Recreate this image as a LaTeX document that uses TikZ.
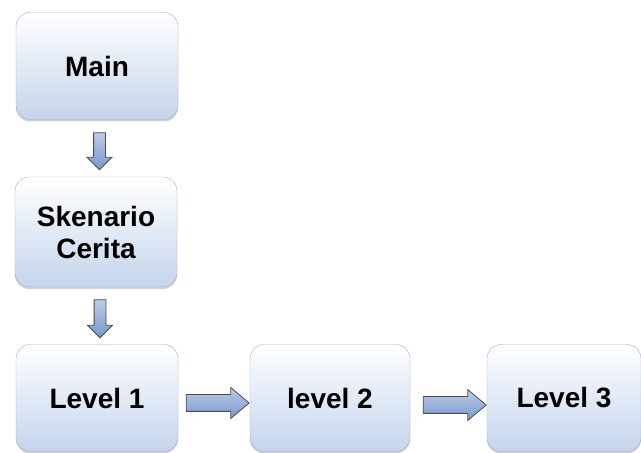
\documentclass[tikz,border=0pt]{standalone}
\usepackage{fontspec}
\setmainfont{Liberation Sans}
\usetikzlibrary{shapes.arrows,shadows}
\definecolor{boxblue}{RGB}{196,212,236}
\definecolor{boxline}{RGB}{165,175,192}
\definecolor{arrblue}{RGB}{120,152,206}
\begin{document}
\begin{tikzpicture}[x=1pt,y=1pt,
  box/.style={draw=boxline,rounded corners=14pt,top color=white,bottom color=boxblue,
    minimum width=162pt,minimum height=107pt,align=center,
    font=\fontsize{28}{32}\selectfont\bfseries,
    drop shadow={shadow xshift=0pt,shadow yshift=-2pt,opacity=0.35}},
  blockarr/.style={single arrow,draw=black!70,line width=0.8pt,top color=arrblue!50,
    bottom color=arrblue,inner sep=5.5pt,single arrow head extend=6.5pt,minimum height=#1},
  widearr/.style={blockarr=#1,inner sep=8pt,single arrow head extend=7pt,single arrow tip angle=80}]
\path[use as bounding box] (0,0) rectangle (641,453);
\node[box] (main) at (97,387) {Main};
\node[box,minimum height=110pt] (sken) at (96,221) {Skenario\\Cerita};
\node[box] (lvl1) at (97,55) {Level 1};
\node[box,minimum width=160pt] (lvl2) at (330,55) {level 2};
\node[box,minimum width=154pt] (lvl3) at (564,55) {Level 3};
\path (main) -- node[blockarr=37pt,shape border rotate=270,xshift=3pt] (a1) {} (sken);
\path (sken) -- node[blockarr=38pt,shape border rotate=270,xshift=3.5pt] (a2) {} (lvl1);
\node[widearr=63pt,anchor=tip,yshift=-5pt] (a3) at (lvl2.west) {};
\node[widearr=63pt,anchor=tip,yshift=-7pt] (a4) at (lvl3.west) {};
\end{tikzpicture}
\end{document}
